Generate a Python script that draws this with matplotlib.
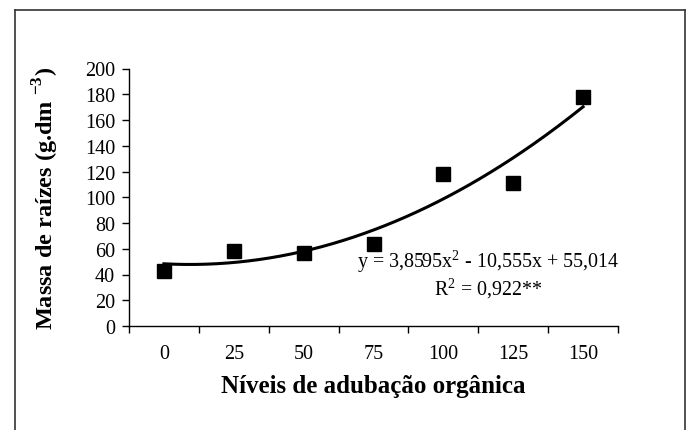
import numpy as np
import matplotlib
matplotlib.use('Agg')
import matplotlib.pyplot as plt
from matplotlib.lines import Line2D

# dados
niveis = ['0', '25', '50', '75', '100', '125', '150']
massa = [42.5, 58, 57, 63.5, 118, 111, 177.5]
coef = [3.8595, -10.555, 55.014]   # linha de tendência (x = 1..7)

plt.rcParams['font.family'] = ['Liberation Serif', 'DejaVu Serif']
plt.rcParams['mathtext.fontset'] = 'custom'
plt.rcParams['mathtext.rm'] = 'Liberation Serif'
plt.rcParams['mathtext.bf'] = 'Liberation Serif:bold'

fig = plt.figure(figsize=(6.87, 4.31), dpi=100)
ax = fig.add_axes([129/687, 1-327/431, (618-129)/687, (327-69.5)/431])

pos = np.arange(len(niveis))
xs = np.linspace(1, len(niveis), 200)
ax.plot(xs - 1, np.polyval(coef, xs), color='black', lw=2.2)
ax.plot(pos, massa, 's', color='black', ms=10)

ax.set_xlim(-0.5, len(niveis) - 0.5)
ax.set_ylim(0, 200)
ax.set_yticks(np.arange(0, 201, 20))
ax.set_xticks(np.arange(-0.5, len(niveis), 1))
ax.set_xticklabels([])
ax.set_xticks(pos, minor=True)
ax.set_xticklabels(niveis, minor=True)
ax.tick_params(axis='x', which='minor', length=0, pad=13, labelsize=14.5)
ax.tick_params(axis='x', which='major', length=5, width=1, direction='out')
ax.tick_params(axis='y', length=5, width=1, direction='out', labelsize=14.5, pad=5)
for s in ['top', 'right']:
    ax.spines[s].set_visible(False)
for s in ['left', 'bottom']:
    ax.spines[s].set_linewidth(1)

ax.set_xlabel('Níveis de adubação orgânica', fontsize=18, fontweight='bold', labelpad=8)
ax.set_ylabel(r'Massa de raízes (g.dm $^{\mathbf{-3}}$)', fontsize=17.5, fontweight='bold', labelpad=17)

fig.text(488/687, 1-268/431, r'y = 3,8595x$^2$ - 10,555x + 55,014', ha='center', va='baseline', fontsize=14.4)
fig.text(488/687, 1-295/431, r'R$^2$ = 0,922**', ha='center', va='baseline', fontsize=14.4)

# moldura
fl, fr, ft = 15/687, 685/687, 1-11/431
for xd, yd in [([fl, fl], [-0.1, ft]), ([fl, fr], [ft, ft]), ([fr, fr], [ft, -0.1])]:
    fig.add_artist(Line2D(xd, yd, color='#333333', lw=1.2, transform=fig.transFigure))

fig.savefig('out.png', dpi=100)
